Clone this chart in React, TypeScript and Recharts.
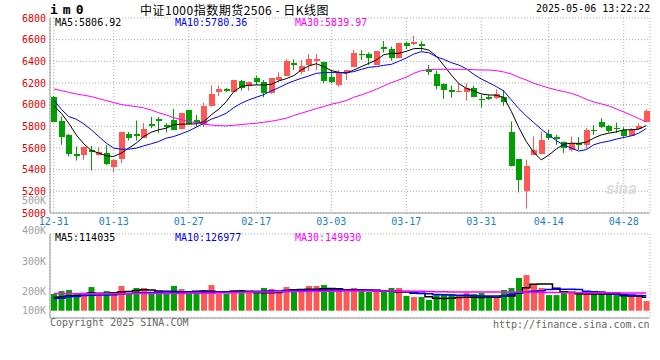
import { ComposedChart, Bar, Line, XAxis, YAxis, CartesianGrid, Cell } from "recharts";

// trading days, 12-31 .. 05-06
const dates = [
  "12-31", "01-02", "01-03", "01-06", "01-07", "01-08", "01-09", "01-10",
  "01-13", "01-14", "01-15", "01-16", "01-17", "01-20", "01-21", "01-22", "01-23", "01-24",
  "01-27", "02-05", "02-06", "02-07", "02-10", "02-11", "02-12", "02-13", "02-14",
  "02-17", "02-18", "02-19", "02-20", "02-21", "02-24", "02-25", "02-26", "02-27", "02-28",
  "03-03", "03-04", "03-05", "03-06", "03-07", "03-10", "03-11", "03-12", "03-13", "03-14",
  "03-17", "03-18", "03-19", "03-20", "03-21", "03-24", "03-25", "03-26", "03-27", "03-28",
  "03-31", "04-01", "04-02", "04-03", "04-07", "04-08", "04-09", "04-10", "04-11",
  "04-14", "04-15", "04-16", "04-17", "04-18", "04-21", "04-22", "04-23", "04-24", "04-25",
  "04-28", "04-29", "04-30", "05-06",
];

const opens = [
  6068, 5853, 5721, 5546, 5531, 5577, 5531, 5556, 5421, 5503,
  5731, 5731, 5694, 5820, 5866, 5814, 5860, 5771, 5952, 5860,
  5810, 5988, 6114, 6145, 6117, 6222, 6173, 6249, 6210, 6105,
  6228, 6265, 6388, 6299, 6366, 6400, 6397, 6259, 6182, 6289,
  6351, 6467, 6464, 6366, 6535, 6513, 6428, 6566, 6560, 6560,
  6326, 6283, 6191, 6136, 6114, 6114, 6151, 6056, 6075, 6065,
  6075, 5749, 5500, 5200, 5537, 5546, 5731, 5697, 5654, 5583,
  5645, 5629, 5767, 5838, 5804, 5789, 5767, 5715, 5777, 5844,
];
const highs = [
  6080, 5890, 5730, 5614, 5614, 5620, 5608, 5626, 5497, 5749,
  5749, 5853, 5832, 5887, 5887, 5829, 5961, 5924, 5952, 5906,
  6019, 6179, 6176, 6154, 6228, 6228, 6213, 6268, 6228, 6246,
  6299, 6418, 6418, 6412, 6467, 6467, 6397, 6320, 6320, 6320,
  6504, 6504, 6482, 6495, 6587, 6535, 6566, 6584, 6636, 6587,
  6366, 6314, 6197, 6176, 6197, 6197, 6176, 6090, 6090, 6142,
  6136, 5844, 5500, 5491, 5706, 5752, 5767, 5721, 5660, 5706,
  5700, 5783, 5813, 5875, 5813, 5835, 5792, 5783, 5829, 5958,
];
const lows = [
  5840, 5629, 5522, 5485, 5491, 5393, 5531, 5442, 5375, 5461,
  5669, 5669, 5694, 5783, 5740, 5743, 5767, 5771, 5823, 5795,
  5792, 5981, 6081, 6117, 6117, 6130, 6130, 6182, 6068, 6099,
  6213, 6265, 6320, 6280, 6311, 6320, 6197, 6197, 6166, 6228,
  6351, 6412, 6366, 6366, 6482, 6406, 6428, 6513, 6550, 6495,
  6274, 6142, 6053, 6065, 6114, 6037, 6068, 5973, 6044, 6053,
  5988, 5430, 5190, 5040, 5537, 5546, 5675, 5629, 5553, 5568,
  5583, 5593, 5721, 5783, 5743, 5737, 5691, 5715, 5767, 5844,
];
const closes = [
  5844, 5697, 5546, 5522, 5605, 5559, 5562, 5448, 5485, 5749,
  5694, 5715, 5777, 5804, 5850, 5795, 5767, 5924, 5823, 5829,
  5988, 6099, 6145, 6130, 6228, 6154, 6213, 6213, 6105, 6246,
  6259, 6403, 6366, 6357, 6421, 6421, 6222, 6210, 6289, 6320,
  6480, 6455, 6428, 6495, 6513, 6428, 6566, 6544, 6581, 6544,
  6305, 6176, 6136, 6114, 6130, 6151, 6075, 6044, 6056, 6096,
  6028, 5430, 5307, 5430, 5577, 5675, 5688, 5682, 5599, 5645,
  5629, 5767, 5758, 5798, 5758, 5777, 5715, 5774, 5807, 5946,
];

// moving averages as drawn (they reach back before 12-31)
const ma5 = [
  5992, 5921, 5829, 5721, 5639, 5577, 5553, 5528, 5522, 5553,
  5599, 5645, 5706, 5746, 5768, 5783, 5814, 5820, 5820, 5823,
  5844, 5906, 5958, 6028, 6121, 6167, 6179, 6182, 6182, 6188,
  6219, 6240, 6268, 6320, 6357, 6378, 6351, 6314, 6299, 6289,
  6320, 6351, 6381, 6412, 6461, 6474, 6474, 6492, 6517, 6520,
  6504, 6449, 6363, 6275, 6195, 6151, 6127, 6099, 6090, 6087,
  6068, 5940, 5790, 5660, 5560, 5490, 5535, 5590, 5635, 5645,
  5642, 5654, 5691, 5721, 5737, 5749, 5768, 5768, 5774, 5807,
];
const ma10 = [
  6044, 5958, 5890, 5866, 5823, 5768, 5706, 5645, 5599, 5589,
  5589, 5599, 5620, 5639, 5660, 5691, 5706, 5731, 5758, 5792,
  5829, 5866, 5890, 5921, 5973, 6013, 6044, 6068, 6093, 6127,
  6157, 6191, 6219, 6243, 6265, 6289, 6296, 6296, 6296, 6296,
  6305, 6326, 6345, 6351, 6363, 6372, 6400, 6431, 6467, 6489,
  6480, 6443, 6418, 6388, 6366, 6332, 6280, 6237, 6203, 6167,
  6127, 6044, 5964, 5896, 5835, 5774, 5721, 5669, 5626, 5600,
  5572, 5585, 5630, 5650, 5663, 5682, 5697, 5712, 5737, 5780,
];
const ma30 = [
  6145, 6130, 6114, 6099, 6087, 6075, 6056, 6038, 6019, 6001,
  5992, 5982, 5970, 5950, 5925, 5905, 5880, 5862, 5846, 5832,
  5822, 5812, 5806, 5804, 5810, 5817, 5823, 5829, 5838, 5847,
  5860, 5875, 5900, 5921, 5942, 5964, 5982, 6004, 6019, 6038,
  6068, 6090, 6114, 6142, 6173, 6203, 6228, 6253, 6289, 6314,
  6323, 6326, 6326, 6326, 6326, 6326, 6323, 6320, 6320, 6314,
  6302, 6283, 6253, 6228, 6197, 6176, 6154, 6136, 6121, 6105,
  6081, 6050, 6025, 6007, 5989, 5961, 5933, 5903, 5872, 5840,
];

// volume, thousands of lots
const volK = [
  142, 167, 176, 142, 142, 201, 133, 167, 159, 210,
  142, 193, 193, 159, 150, 150, 210, 184, 150, 150,
  176, 218, 142, 142, 176, 176, 167, 167, 193, 184,
  159, 201, 176, 184, 210, 210, 218, 193, 184, 184,
  193, 176, 159, 167, 159, 193, 193, 125, 116, 116,
  91, 133, 142, 142, 125, 150, 142, 150, 125, 108,
  176, 193, 278, 303, 218, 193, 133, 133, 150, 159,
  142, 142, 142, 142, 142, 133, 133, 125, 125, 82,
];
const volMa5K = [
  112, 116, 124, 127, 146, 150, 149, 147, 152, 160,
  163, 172, 178, 175, 168, 165, 163, 160, 162, 165,
  167, 166, 160, 158, 165, 168, 166, 155, 153, 152,
  154, 172, 178, 181, 183, 182, 187, 188, 186, 178,
  176, 175, 174, 168, 166, 165, 160, 158, 149, 146,
  119, 106, 104, 105, 112, 114, 115, 113, 116, 114,
  124, 126, 148, 196, 224, 228, 226, 190, 162, 157,
  144, 142, 141, 142, 142, 141, 127, 125, 124, 114,
];
const volMa10K = [
  104, 106, 118, 120, 130, 132, 133, 134, 136, 142,
  146, 150, 152, 154, 157, 158, 159, 159, 160, 160,
  159, 159, 158, 159, 160, 161, 162, 165, 166, 167,
  168, 169, 170, 171, 172, 173, 174, 176, 176, 177,
  177, 176, 175, 175, 170, 168, 166, 164, 152, 148,
  145, 138, 135, 133, 132, 131, 127, 126, 125, 124,
  125, 140, 150, 160, 165, 170, 180, 182, 183, 182,
  180, 166, 162, 158, 146, 142, 138, 133, 130, 127,
];
const volMa30K = [
  146, 146, 145, 145, 145, 145, 144, 144, 145, 145,
  145, 146, 146, 146, 146, 147, 147, 147, 148, 148,
  148, 149, 150, 151, 152, 154, 156, 158, 159, 160,
  161, 162, 163, 163, 164, 165, 165, 166, 166, 167,
  167, 167, 167, 167, 167, 167, 166, 166, 165, 165,
  164, 162, 161, 160, 160, 159, 159, 159, 158, 158,
  158, 158, 158, 158, 156, 155, 155, 154, 154, 153,
  153, 153, 153, 152, 152, 152, 151, 151, 150, 150,
];

const dateTicks = ["12-31", "01-13", "01-27", "02-17", "03-03", "03-17", "03-31", "04-14", "04-28"];
const priceTicks = [5000, 5200, 5400, 5600, 5800, 6000, 6200, 6400, 6600, 6800];
const volLabelTicks = [100000, 200000, 300000, 400000, 500000];

const RED = "#ff5656";
const GREEN = "#00a000";
const GRID = "#aaaaaa";
const FRAME = "#999999";
const MONO = '"DejaVu Sans Mono", "Liberation Mono", monospace';

const rows = dates.map((date, i) => ({
  date,
  open: opens[i],
  high: highs[i],
  low: lows[i],
  close: closes[i],
  ma5: ma5[i],
  ma10: ma10[i],
  ma30: ma30[i],
  vol: volK[i] * 1000,
  vma5: volMa5K[i] * 1000,
  vma10: volMa10K[i] * 1000,
  vma30: volMa30K[i] * 1000,
}));

function Candle(props: any) {
  const { x, y, width, height, payload } = props;
  if (!payload || height == null) return null;
  const { open, close, high, low } = payload;
  const color = close >= open ? RED : GREEN;
  const span = high - low || 1;
  const toY = (v: number) => y + ((high - v) / span) * height;
  const top = toY(Math.max(open, close));
  const bottom = toY(Math.min(open, close));
  const cx = Math.round(x + width / 2) - 0.5;
  return (
    <g>
      <line x1={cx} x2={cx} y1={y} y2={y + height} stroke={color} strokeWidth={1} />
      <rect
        x={Math.round(x)}
        y={Math.round(top)}
        width={Math.round(width)}
        height={Math.max(Math.round(bottom) - Math.round(top), 1)}
        fill={color}
        shapeRendering="crispEdges"
      />
    </g>
  );
}

// sina places volume labels on their own scale; the lowest one is held inside the panel
const VOL_PLOT_BOTTOM = 128;
const LABEL_RIGHT = 46;
function VolLabel(props: any) {
  const { y, payload } = props;
  return (
    <text x={LABEL_RIGHT} y={Math.min(y, VOL_PLOT_BOTTOM - 8)} dy="0.355em" textAnchor="end" fill="#a0a0a0" fontSize={10} fontFamily={MONO}>
      {payload.value / 1000 + "K"}
    </text>
  );
}

const abs = (left: number, top: number): React.CSSProperties => ({ position: "absolute", left, top, whiteSpace: "nowrap" });

export default function App() {
  return (
    <div style={{ position: "absolute", left: 0, top: 0, width: 660, height: 360, background: "#fff", fontFamily: MONO, fontSize: 10 }}>
      <div style={{ ...abs(0, 0) }}>
        <ComposedChart width={660} height={232} data={rows} margin={{ top: 18, right: 10, bottom: 0, left: 0 }}>
          <CartesianGrid stroke={GRID} strokeDasharray="1 2" />
          <XAxis
            dataKey="date"
            ticks={dateTicks}
            interval={0}
            height={19}
            tickSize={0}
            tickMargin={5}
            tickLine={false}
            axisLine={{ stroke: FRAME }}
            tick={{ fill: "#1a7fd0", fontSize: 10, fontFamily: MONO }}
          />
          <XAxis xAxisId="top" dataKey="date" orientation="top" height={0} tick={false} tickLine={false} axisLine={{ stroke: FRAME }} />
          <YAxis
            domain={[5000, 6800]}
            ticks={priceTicks}
            interval={0}
            width={50}
            tickSize={0}
            tickMargin={4}
            tickLine={false}
            axisLine={{ stroke: FRAME }}
            tick={{ fill: "#e00000", fontSize: 10, fontFamily: MONO }}
          />
          <YAxis yAxisId="r" orientation="right" width={0} domain={[0, 1]} tick={false} tickLine={false} axisLine={{ stroke: FRAME }} />
          <Bar dataKey={(d: any) => [d.low, d.high]} barSize={6} shape={<Candle />} isAnimationActive={false} />
          <Line dataKey="ma5" stroke="#000000" strokeWidth={1} dot={false} activeDot={false} isAnimationActive={false} />
          <Line dataKey="ma10" stroke="#0000ff" strokeWidth={1} dot={false} activeDot={false} isAnimationActive={false} />
          <Line dataKey="ma30" stroke="#ff00ff" strokeWidth={1} dot={false} activeDot={false} isAnimationActive={false} />
        </ComposedChart>
      </div>

      <div style={{ ...abs(0, 190) }}>
        <ComposedChart width={660} height={150} data={rows} margin={{ top: 44, right: 10, bottom: 0, left: 0 }}>
          <CartesianGrid stroke={GRID} strokeDasharray="1 2" yAxisId="grid" />
          <XAxis dataKey="date" ticks={dateTicks} interval={0} height={22} tick={false} tickLine={false} axisLine={{ stroke: FRAME }} />
          <XAxis xAxisId="top" dataKey="date" orientation="top" height={0} tick={false} tickLine={false} axisLine={{ stroke: FRAME }} />
          <YAxis
            yAxisId="lbl"
            domain={[112000, 389000]}
            allowDataOverflow
            ticks={volLabelTicks}
            interval={0}
            width={50}
            tickSize={0}
            tickMargin={4}
            tickLine={false}
            axisLine={{ stroke: FRAME }}
            tick={(p: any) => <VolLabel {...p} />}
          />
          <YAxis yAxisId="vol" hide domain={[-62000, 652000]} allowDataOverflow />
          <YAxis yAxisId="grid" orientation="right" width={0} domain={[0, 4]} ticks={[1, 2, 3]} allowDataOverflow tick={false} tickLine={false} axisLine={{ stroke: FRAME }} />
          <Bar yAxisId="vol" dataKey="vol" barSize={6} isAnimationActive={false}>
            {rows.map((r, i) => (
              <Cell key={i} fill={r.close >= r.open ? RED : GREEN} />
            ))}
          </Bar>
          <Line yAxisId="vol" type="step" dataKey="vma5" stroke="#000000" strokeWidth={1.5} dot={false} activeDot={false} isAnimationActive={false} />
          <Line yAxisId="vol" type="step" dataKey="vma10" stroke="#0000ff" strokeWidth={1.5} dot={false} activeDot={false} isAnimationActive={false} />
          <Line yAxisId="vol" type="step" dataKey="vma30" stroke="#ff00ff" strokeWidth={1.5} dot={false} activeDot={false} isAnimationActive={false} />
        </ComposedChart>
      </div>

      <div style={{ ...abs(50, 2), fontSize: 13, fontWeight: "bold", letterSpacing: 5 }}>im0</div>
      <div style={{ ...abs(140, 1), fontSize: 12, fontFamily: '"Noto Sans CJK SC", sans-serif', letterSpacing: 0.5 }}>
        中证1000指数期货2506 - 日K线图
      </div>
      <div style={{ ...abs(536, 3) }}>2025-05-06 13:22:22</div>

      <div style={{ ...abs(55, 17) }}>MA5:5806.92</div>
      <div style={{ ...abs(175, 17), color: "#0000ff" }}>MA10:5780.36</div>
      <div style={{ ...abs(295, 17), color: "#ff00ff" }}>MA30:5839.97</div>

      <div style={{ ...abs(55, 232) }}>MA5:114035</div>
      <div style={{ ...abs(175, 232), color: "#0000ff" }}>MA10:126977</div>
      <div style={{ ...abs(295, 232), color: "#ff00ff" }}>MA30:149930</div>

      <div style={{ ...abs(50, 317), color: "#666" }}>Copyright 2025 SINA.COM</div>
      <div style={{ ...abs(493, 319), color: "#666" }}>http://finance.sina.com.cn</div>

      <div style={{ ...abs(606, 178), fontSize: 17, fontStyle: "italic", fontWeight: "bold", color: "#dcdcdc", fontFamily: "Roboto, sans-serif" }}>
        sina
      </div>
    </div>
  );
}
